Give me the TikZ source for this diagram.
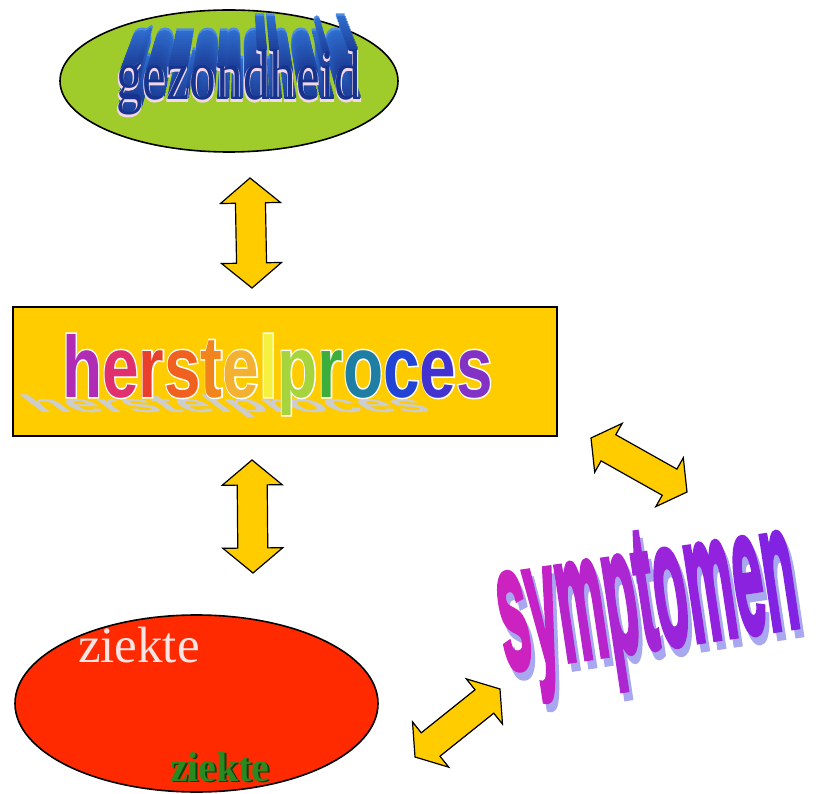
\documentclass[tikz,border=0pt]{standalone}
\usepackage{fontspec}
\usepackage{graphicx}
\usetikzlibrary{calc,shapes.geometric}
\newfontfamily\wserif{Liberation Serif}
\newfontfamily\wserifext[FakeBold=3]{Liberation Serif}
\newfontfamily\wserifout[FakeBold=3]{Liberation Serif}
\newfontfamily\wsans{Liberation Sans}
\newfontfamily\wsansout[FakeBold=3.5]{Liberation Sans}
\newfontfamily\wsanshvy[FakeBold=3.5]{Liberation Sans}
\definecolor{gold}{HTML}{FFCC00}
\definecolor{lime}{HTML}{9FCC2A}
\definecolor{redfill}{HTML}{FF2A00}
\definecolor{gzdark}{HTML}{1C3E98}
\definecolor{gzmid}{HTML}{3070D2}
\definecolor{gzlight}{HTML}{4E8CE2}
\definecolor{gzfront}{HTML}{16338E}
\definecolor{gzpink}{HTML}{F4D8EA}
\definecolor{hA}{HTML}{B02CB4}
\definecolor{hB}{HTML}{E0306E}
\definecolor{hC}{HTML}{E8402C}
\definecolor{hD}{HTML}{F0601E}
\definecolor{hE}{HTML}{F2841E}
\definecolor{hF}{HTML}{F4B030}
\definecolor{hG}{HTML}{F6F040}
\definecolor{hH}{HTML}{A6D43C}
\definecolor{hI}{HTML}{3CAE3C}
\definecolor{hJ}{HTML}{1E7EA4}
\definecolor{hK}{HTML}{2244D4}
\definecolor{hL}{HTML}{4232D0}
\definecolor{hM}{HTML}{8232C4}
\definecolor{hshadow}{HTML}{CDCDCD}
\definecolor{sA}{HTML}{CC22C0}
\definecolor{sB}{HTML}{C422C6}
\definecolor{sC}{HTML}{B824CC}
\definecolor{sD}{HTML}{AC26D2}
\definecolor{sE}{HTML}{A226D6}
\definecolor{sF}{HTML}{9A24DA}
\definecolor{sG}{HTML}{9222DE}
\definecolor{sH}{HTML}{8A22E0}
\definecolor{sI}{HTML}{8222E2}
\definecolor{symshadow}{HTML}{A8A8F0}
\definecolor{zkwhite}{HTML}{FBE4E4}
\definecolor{zkgreen}{HTML}{2A8A20}
\definecolor{zkdark}{HTML}{0E420E}

\newcommand{\fatarrow}[5]{%
  \filldraw[arrowstyle] (#1)
   -- ($(#1)!#3!(#2)!#4!90:(#2)$)
   -- ($(#1)!#3!(#2)!#5!90:(#2)$)
   -- ($(#2)!#3!(#1)!#5!-90:(#1)$)
   -- ($(#2)!#3!(#1)!#4!-90:(#1)$)
   -- (#2)
   -- ($(#2)!#3!(#1)!#4!90:(#1)$)
   -- ($(#2)!#3!(#1)!#5!90:(#1)$)
   -- ($(#1)!#3!(#2)!#5!-90:(#2)$)
   -- ($(#1)!#3!(#2)!#4!-90:(#2)$)
   -- cycle;}
\newcommand{\gzword}[1]{\scalebox{0.74}[1]{\fontsize{72}{80}\selectfont#1\relax gezondheid}}
\newcommand{\hword}[1]{\scalebox{0.755}[1]{\fontsize{87}{90}\selectfont\bfseries #1}}
\newcommand{\symword}[1]{\scalebox{0.30}[1]{\fontsize{178}{185}\selectfont\wsanshvy\bfseries #1}}

\begin{document}
\begin{tikzpicture}[x=1pt,y=-1pt,
  arrowstyle/.style={fill=gold, draw=black, line width=1.2pt, line join=miter},
  shapeline/.style={draw=black, line width=1.6pt, inner sep=0pt},
  word/.style={anchor=base west, inner sep=0pt, outer sep=0pt}]
\useasboundingbox (0,0) rectangle (822,794);
\fill[white] (0,0) rectangle (822,794);

% shapes
\node[shapeline, ellipse, fill=lime, minimum width=338pt, minimum height=142pt] (gz) at (229,81) {};
\node[shapeline, rectangle, fill=gold, minimum width=544pt, minimum height=129pt] (hp) at (285,371.5) {};
\node[shapeline, ellipse, fill=redfill, minimum width=363pt, minimum height=177pt] (zk) at (196.5,703.5) {};

% gezondheid (3D extrusion in perspective towards a vanishing point)
\coordinate (gzbase) at (116,100);
\coordinate (gzvp) at (240,-250);
\foreach \i in {14,...,1}{
  \pgfmathsetmacro\sc{1-0.0085*\i}
  \pgfmathtruncatemacro\mix{100-\i*7}
  \ifnum\i=14 \def\gzcol{gzlight}\else\edef\gzcol{gzdark!\mix!gzmid}\fi
  \begin{scope}[shift={($(gzvp)!\sc!(gzbase)$)}]
    \node[word, transform shape, scale=\sc, text=\gzcol] (gzx\i) at (0,0) {\gzword{\wserifext}};
  \end{scope}
}
\node[word, text=gzpink] (gzhi) at ($(gzbase)+(-0.6,0.8)$) {\gzword{\wserifout}};
\node[word, text=gzfront] (gztext) at (gzbase) {\gzword{\wserif}};

% herstelproces
\coordinate (hpbase) at (62,397);
\begin{scope}[shift={(38,412)}, xslant=-1.3, yscale=0.28]
  \node[word, transform shape, text=hshadow] (hpshadow) at (0,0) {\scalebox{0.92}[1]{\hword{\wsans herstelproces}}};
\end{scope}
\node[word, text=white] (hpw) at (hpbase) {\hword{\wsansout herstelproces}};
\node[word] (hptext) at (hpbase) {\hword{\wsans\color{hA}h\color{hB}e\color{hC}r\color{hD}s\color{hE}t\color{hF}e\color{hG}l\color{hH}p\color{hI}r\color{hJ}o\color{hK}c\color{hL}e\color{hM}s}};

% symptomen
\coordinate (symbase) at (506,670);
\node[word, rotate=8.5, text=symshadow] (symsh) at ($(symbase)+(4,8)$) {\symword{symptomen}};
\node[word, rotate=8.5] (symtext) at (symbase) {\symword{\color{sA}s\color{sB}y\color{sC}m\color{sD}p\color{sE}t\color{sF}o\color{sG}m\color{sH}e\color{sI}n}};

% ziekte texts
\node[word, text=zkwhite] (zktop) at (78,662) {\fontsize{51}{55}\selectfont\wserif ziekte};
\node[word, text=zkdark] (zksh) at (172,782.5) {\scalebox{0.95}[1]{\fontsize{42}{46}\selectfont\wserif\bfseries ziekte}};
\node[word, text=zkgreen] (zkbot) at (170,781) {\scalebox{0.95}[1]{\fontsize{42}{46}\selectfont\wserif\bfseries ziekte}};

% double arrows
\coordinate (a1s) at (250,178);
\coordinate (a1e) at (252,288);
\coordinate (a2s) at (252,460);
\coordinate (a2e) at (253,573);
\coordinate (a3s) at (591,438);
\coordinate (a3e) at (687,492);
\coordinate (a4s) at (415,757);
\coordinate (a4e) at (500,689);
\fatarrow{a1s}{a1e}{25pt}{30pt}{15pt}
\fatarrow{a2s}{a2e}{25pt}{30pt}{15pt}
\fatarrow{a3s}{a3e}{20pt}{28pt}{15pt}
\fatarrow{a4s}{a4e}{20pt}{29pt}{15pt}
\end{tikzpicture}
\end{document}
